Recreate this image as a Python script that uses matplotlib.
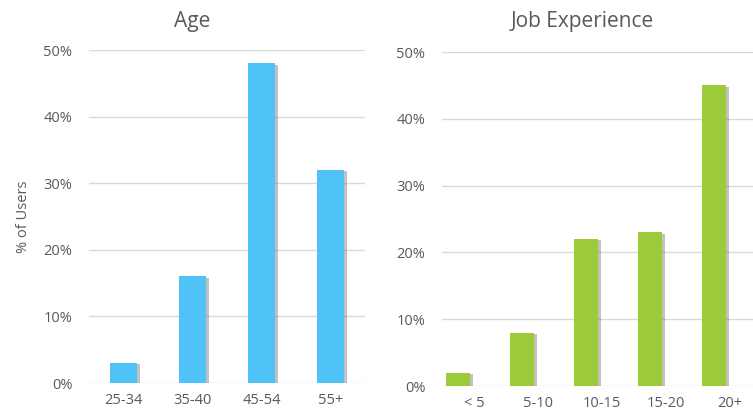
import matplotlib
matplotlib.use("Agg")
import matplotlib.pyplot as plt
import matplotlib.patheffects as pe
import numpy as np

# data
age_labels = ["25-34", "35-40", "45-54", "55+"]
age_values = [3, 16, 48, 32]
job_labels = ["< 5", "5-10", "10-15", "15-20", "20+"]
job_values = [2, 8, 22, 23, 45]
y_ticks = [0, 10, 20, 30, 40, 50]

text_color = "#595959"
grid_color = "#D9D9D9"
blue = "#4FC3F7"
green = "#9BCB3B"

plt.rcParams["font.family"] = ["Open Sans", "DejaVu Sans"]

fig = plt.figure(figsize=(7.53, 4.11), dpi=100)
W, H = 753, 411

shadow = [pe.SimplePatchShadow(offset=(2.5, -1), shadow_rgbFace="#666666", alpha=0.4), pe.Normal()]


def style(ax, labels, xlim):
    ax.set_ylim(0, 50)
    ax.set_xlim(*xlim)
    ax.set_yticks(y_ticks)
    ax.set_yticklabels([f"{v}%" for v in y_ticks])
    ax.set_xticks(np.arange(len(labels)))
    ax.set_xticklabels(labels)
    for s in ax.spines.values():
        s.set_visible(False)
    ax.tick_params(length=0, colors=text_color, labelsize=10.5)
    ax.tick_params(axis="y", pad=12)
    ax.tick_params(axis="x", pad=7)
    ax.yaxis.grid(True, color=grid_color, linewidth=1)
    ax.set_axisbelow(True)


# Age
ax1 = fig.add_axes([89 / W, 1 - 383 / H, 276 / W, (383 - 50) / H])
x1 = np.arange(len(age_labels))
bars = ax1.bar(x1, age_values, width=0.39, color=blue, linewidth=0)
for b in bars:
    b.set_path_effects(shadow)
style(ax1, age_labels, (-0.5, 3.5))
ax1.set_ylabel("% of Users", color=text_color, fontsize=10.5, labelpad=9)

# Job Experience
ax2 = fig.add_axes([442 / W, 1 - 386 / H, 311 / W, (386 - 52) / H])
x2 = np.arange(len(job_labels))
bars = ax2.bar(x2 - 0.25, job_values, width=0.37, color=green, linewidth=0)
for b in bars:
    b.set_path_effects(shadow)
style(ax2, job_labels, (-0.5, -0.5 + 311 / 64))

fig.text(192 / W, 1 - 22 / H, "Age", ha="center", va="center", fontsize=15, color=text_color)
fig.text(582 / W, 1 - 22 / H, "Job Experience", ha="center", va="center", fontsize=15, color=text_color)

fig.savefig("out.png", dpi=100)
